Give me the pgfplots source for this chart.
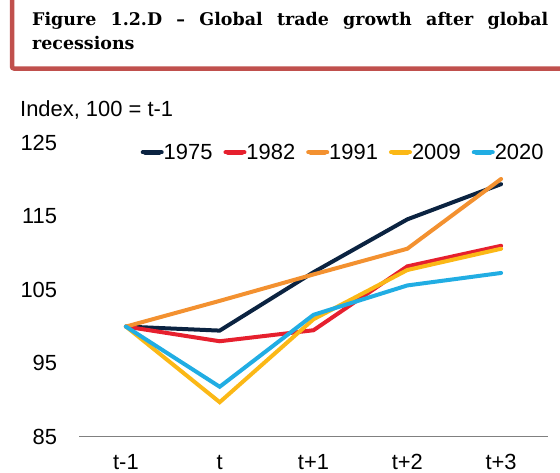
\documentclass[border=0pt]{standalone}
\usepackage{fontspec}
\setmainfont{Liberation Sans}
\newfontfamily\titlefont{DejaVu Serif}
\usepackage{pgfplots}
\pgfplotsset{compat=1.18}
\definecolor{cnavy}{HTML}{0B2341}
\definecolor{cred}{HTML}{E6202E}
\definecolor{corange}{HTML}{F39130}
\definecolor{cgold}{HTML}{FBB816}
\definecolor{cblue}{HTML}{21ADE3}
\definecolor{tborder}{HTML}{C0504D}
\begin{document}
\begin{tikzpicture}
\useasboundingbox (0bp,0bp) rectangle (560bp,-473bp);
\draw[color=tborder, line width=4.5bp, rounded corners=2bp] (12bp,2bp) -- (12bp,-68.5bp) -- (564bp,-68.5bp);
\node[anchor=base west, inner sep=0pt, font=\titlefont\bfseries\fontsize{17.5}{25}\selectfont] at (32bp,-25bp)
  {\parbox[t]{516bp}{Figure 1.2.D – Global trade growth after global\linebreak recessions}};
\node[anchor=base west, inner sep=0pt, font=\fontsize{22}{26}\selectfont] at (20bp,-116.5bp) {Index, 100 = t-1};
\begin{axis}[
  at={(79bp,-436.7bp)}, anchor=south west,
  scale only axis, width=469bp, height=293.7bp,
  xmin=-0.5, xmax=4.5, ymin=85, ymax=125,
  axis x line=bottom, axis y line=left,
  x axis line style={-, draw=black!50, line width=1.3bp},
  y axis line style={draw=none},
  xtick={0,1,2,3,4}, xticklabels={t-1,t,t+1,t+2,t+3},
  ytick={85,95,105,115,125},
  major tick length=0pt,
  tick style={draw=none},
  /pgf/number format/assume math mode=true,
  tick label style={font=\fontsize{22}{26}\selectfont},
  yticklabel style={anchor=east, inner sep=0pt, xshift=-21.7bp},
  xticklabel style={anchor=base, inner sep=0pt, yshift=-33bp},
  clip=false,
  legend columns=5,
  legend style={at={(0.1316,0.968)}, anchor=west, draw=none, fill=none,
    inner sep=0pt, outer sep=0pt, font=\fontsize{22}{26}\selectfont,
    nodes={inner sep=0pt},
    /tikz/every even column/.append style={column sep=11bp},
    cells={anchor=west}},
  legend image code/.code={\draw[#1, line width=5bp, line cap=round] (2.5bp,0bp) -- (16.5bp,0bp); \path (0bp,0bp) -- (19bp,0bp);},
  every axis plot/.append style={line width=4bp, line join=miter, line cap=round},
]
\addplot[cnavy] coordinates {(0,100) (1,99.45) (2,107.4) (3,114.6) (4,119.4)};
\addplot[cred] coordinates {(0,100) (1,98.0) (2,99.5) (3,108.2) (4,111.0)};
\addplot[corange] coordinates {(0,100) (1,103.5) (2,107.1) (3,110.6) (4,120.1)};
\addplot[cgold] coordinates {(0,100) (1,89.7) (2,101.0) (3,107.7) (4,110.6)};
\addplot[cblue] coordinates {(0,100) (1,91.8) (2,101.6) (3,105.6) (4,107.3)};
\legend{1975,1982,1991,2009,2020}
\end{axis}
\end{tikzpicture}
\end{document}
